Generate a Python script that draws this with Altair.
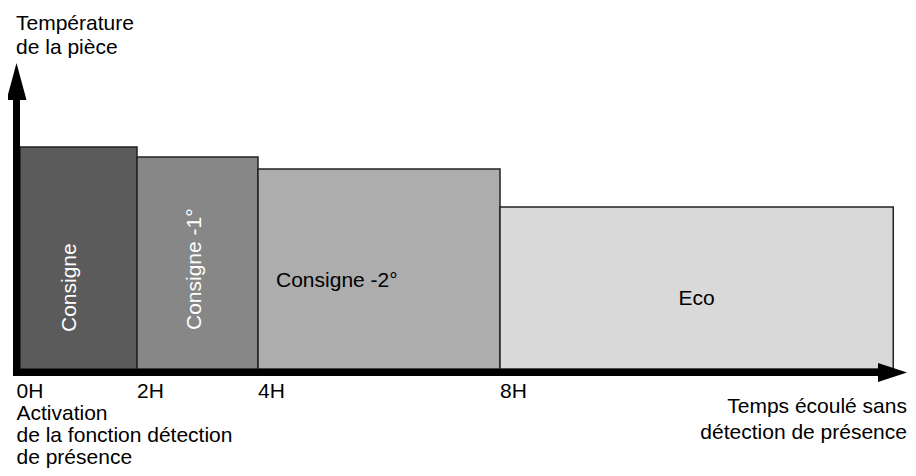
import altair as alt
import pandas as pd

# ---- data -------------------------------------------------------------
bar_labels = ["Consigne", "Consigne -1°", "Consigne -2°", "Eco"]
bar_start = [0, 2, 4, 8]          # hours
bar_end = [2, 4, 8, 14.5]         # hours
bar_level = [22.2, 21.2, 20.0, 16.2]  # relative room temperature level
bar_colors = ["#5b5b5b", "#878787", "#adadad", "#d9d9d9"]

tick_pos = [2, 4, 8]
tick_labels = ["2H", "4H", "8H"]
origin_lines = ["0H", "Activation", "de la fonction détection", "de présence"]
y_title_lines = ["Température", "de la pièce"]
x_title_lines = ["Temps écoulé sans", "détection de présence"]

# label anchor positions (hours, level)
vlabel_x = [0.957, 3.058]
vlabel_y = [3.7, 3.9]
hlabel_x = [4.298, 11.25]
hlabel_y = [8.2, 6.4]
hlabel_align = ["left", "center"]

FONT = "Liberation Sans"
FS = 21

xs = alt.Scale(domain=[0, 2, 4, 8], range=[12, 129, 250, 492], nice=False, zero=False)
ys = alt.Scale(domain=[0, 22.2], range=[361, 139], nice=False, zero=False)

X = lambda f: alt.X(f, type="quantitative", scale=xs, axis=None)
Y = lambda f: alt.Y(f, type="quantitative", scale=ys, axis=None)

bars_df = pd.DataFrame({"label": bar_labels, "start": bar_start, "end": bar_end, "level": bar_level})
bars = alt.Chart(bars_df).mark_rect(stroke="#222222", strokeWidth=1.5).encode(
    x=X("start"), x2="end", y=Y("level"), y2=alt.datum(0),
    color=alt.Color("label:N", scale=alt.Scale(domain=bar_labels, range=bar_colors), legend=None),
)

# axes arrows
v_axis = alt.Chart(pd.DataFrame({"x": [0], "y": [-0.7], "y2": [27.5]})).mark_rule(
    color="black", strokeWidth=7, xOffset=-3.5, strokeCap="butt"
).encode(x=X("x"), y=Y("y"), y2="y2")
h_axis = alt.Chart(pd.DataFrame({"x": [-0.12], "x2": [14.3], "y": [0]})).mark_rule(
    color="black", strokeWidth=7, yOffset=3.5, strokeCap="butt"
).encode(x=X("x"), x2="x2", y=Y("y"))
v_head = alt.Chart(pd.DataFrame({"x": [0], "y": [28.75]})).mark_point(
    shape="M0,-1L0.54,1L-0.54,1Z", size=1369, filled=True, color="black", opacity=1,
    strokeWidth=0, xOffset=-3.5
).encode(x=X("x"), y=Y("y"))
h_head = alt.Chart(pd.DataFrame({"x": [14.488], "y": [0]})).mark_point(
    shape="M1,0L-1,0.655L-1,-0.655Z", size=841, filled=True, color="black", opacity=1,
    strokeWidth=0, yOffset=3.5
).encode(x=X("x"), y=Y("y"))

# bar labels
vlab = alt.Chart(pd.DataFrame({"t": bar_labels[:2], "x": vlabel_x, "y": vlabel_y})).mark_text(
    angle=270, align="left", baseline="alphabetic", font=FONT, fontSize=FS, color="white"
).encode(x=X("x"), y=Y("y"), text="t:N")
hlab = alt.layer(*[
    alt.Chart(pd.DataFrame({"t": [bar_labels[2 + i]], "x": [hlabel_x[i]], "y": [hlabel_y[i]]})).mark_text(
        align=hlabel_align[i], baseline="alphabetic", font=FONT, fontSize=FS, color="black"
    ).encode(x=X("x"), y=Y("y"), text="t:N")
    for i in range(2)
])

# tick labels
ticks = alt.Chart(pd.DataFrame({"t": tick_labels, "x": tick_pos, "y": [-2.9] * 3})).mark_text(
    align="left", baseline="alphabetic", font=FONT, fontSize=FS, color="black"
).encode(x=X("x"), y=Y("y"), text="t:N")
origin = alt.Chart(pd.DataFrame({"t": ["\n".join(origin_lines)], "x": [-0.06], "y": [-2.85]})).mark_text(
    align="left", baseline="alphabetic", font=FONT, fontSize=FS, color="black",
    lineBreak="\n", lineHeight=22
).encode(x=X("x"), y=Y("y"), text="t:N")
ytitle = alt.Chart(pd.DataFrame({"t": ["\n".join(y_title_lines)], "x": [-0.068], "y": [33.9]})).mark_text(
    align="left", baseline="alphabetic", font=FONT, fontSize=FS, color="black",
    lineBreak="\n", lineHeight=24
).encode(x=X("x"), y=Y("y"), text="t:N")
xtitle = alt.Chart(pd.DataFrame({"t": ["\n".join(x_title_lines)], "x": [14.727], "y": [-4.4]})).mark_text(
    align="right", baseline="alphabetic", font=FONT, fontSize=FS, color="black",
    lineBreak="\n", lineHeight=25.5
).encode(x=X("x"), y=Y("y"), text="t:N")

chart = alt.layer(bars, v_axis, h_axis, v_head, h_head, vlab, hlab, ticks, origin, ytitle, xtitle).properties(
    width=900, height=460, autosize=alt.AutoSizeParams(type="none"), padding=0, background="white"
).configure_view(stroke=None)

chart.save("out.html", embed_options={"renderer": "svg", "actions": False})
